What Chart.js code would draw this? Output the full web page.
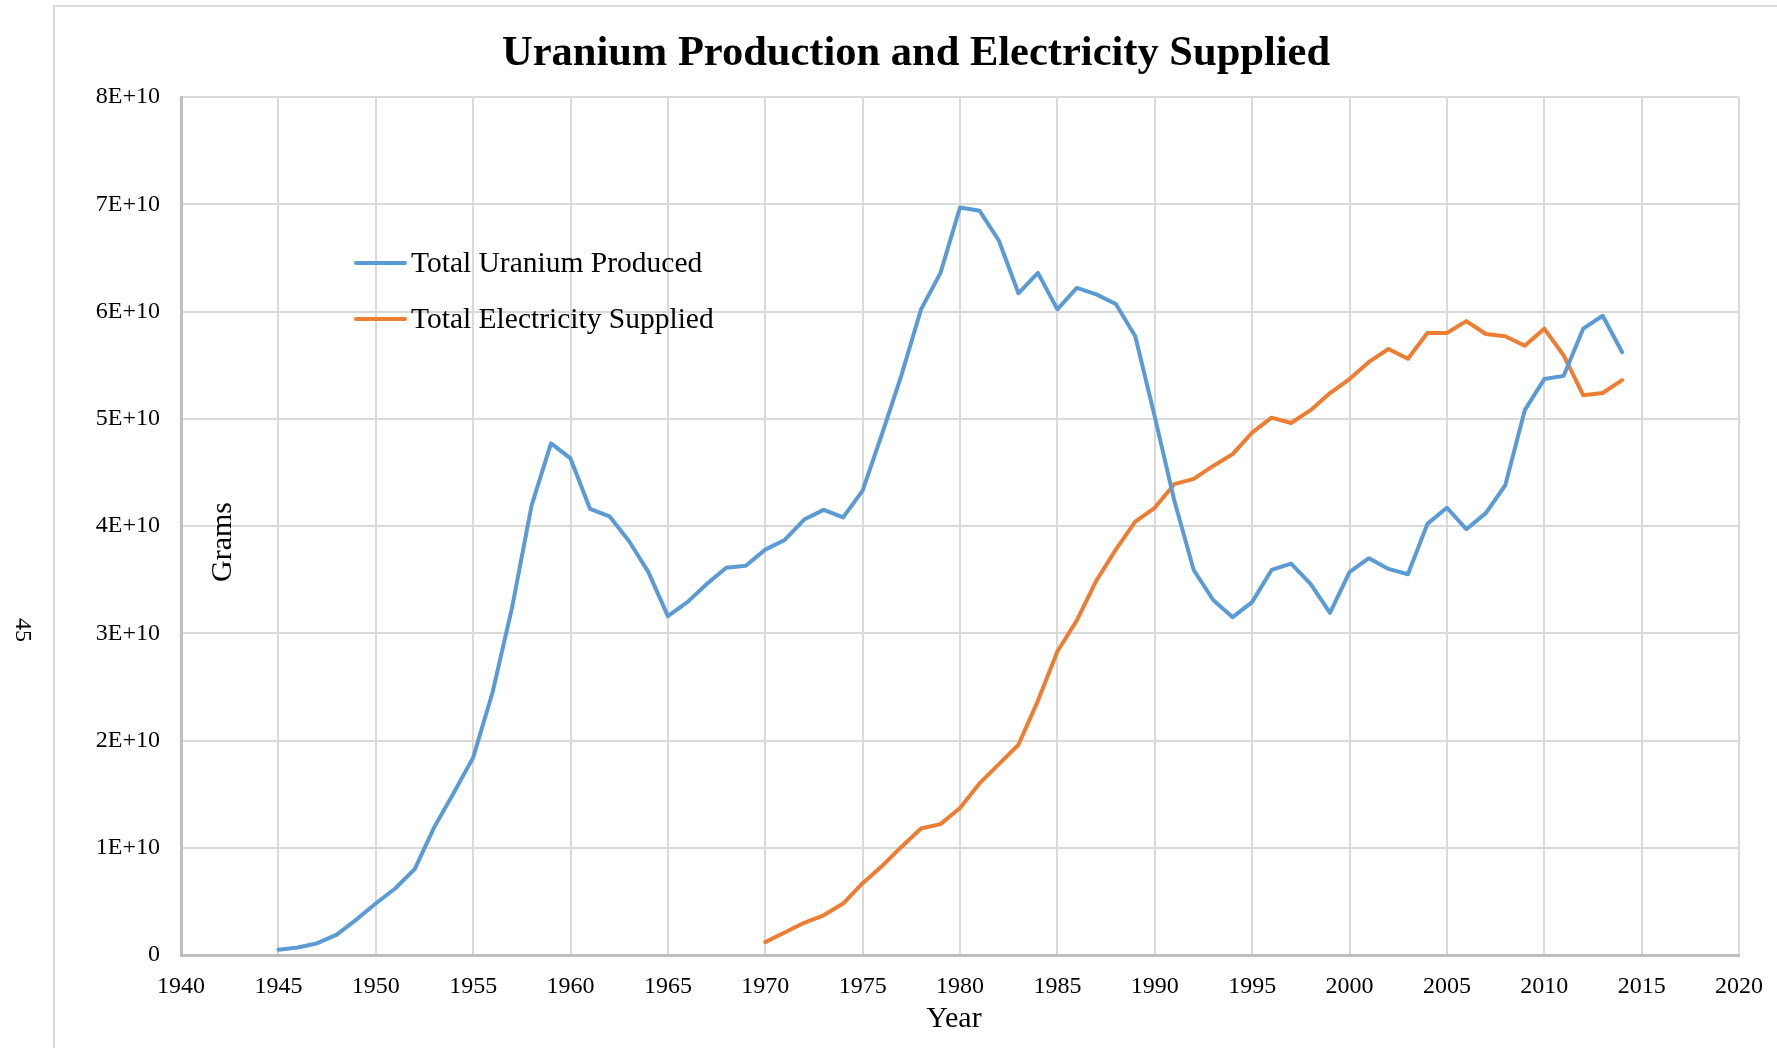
<!DOCTYPE html>
<html lang="en">
<head>
    <meta charset="UTF-8">
    <title>Uranium Production and Electricity Supplied</title>
    <style>
        html, body { margin: 0; padding: 0; background: #fff; }
        #wrap { width: 1777px; height: 1048px; }
    </style>
</head>
<body>
    <div id="wrap"><canvas id="uChart" width="1777" height="1048"></canvas></div>

    <script src="https://cdn.jsdelivr.net/npm/chart.js@4.4.1/dist/chart.umd.min.js"></script>
    <script>
        // data (grams, in units of 1E10)
        const uraniumYears = [1945, 1946, 1947, 1948, 1949, 1950, 1951, 1952, 1953, 1954,
            1955, 1956, 1957, 1958, 1959, 1960, 1961, 1962, 1963, 1964,
            1965, 1966, 1967, 1968, 1969, 1970, 1971, 1972, 1973, 1974,
            1975, 1976, 1977, 1978, 1979, 1980, 1981, 1982, 1983, 1984,
            1985, 1986, 1987, 1988, 1989, 1990, 1991, 1992, 1993, 1994,
            1995, 1996, 1997, 1998, 1999, 2000, 2001, 2002, 2003, 2004,
            2005, 2006, 2007, 2008, 2009, 2010, 2011, 2012, 2013, 2014];
        const uraniumValues = [0.05, 0.07, 0.11, 0.19, 0.33, 0.48, 0.62, 0.80, 1.19, 1.51,
            1.84, 2.45, 3.24, 4.19, 4.77, 4.63, 4.16, 4.09, 3.86, 3.57,
            3.16, 3.29, 3.46, 3.61, 3.63, 3.78, 3.87, 4.06, 4.15, 4.08,
            4.33, 4.86, 5.41, 6.02, 6.36, 6.97, 6.94, 6.66, 6.17, 6.36,
            6.02, 6.22, 6.16, 6.07, 5.77, 5.02, 4.24, 3.59, 3.31, 3.15,
            3.29, 3.59, 3.65, 3.46, 3.19, 3.57, 3.70, 3.60, 3.55, 4.02,
            4.17, 3.97, 4.12, 4.38, 5.08, 5.37, 5.40, 5.84, 5.96, 5.62];

        const electricityYears = [1970, 1971, 1972, 1973, 1974, 1975, 1976, 1977, 1978, 1979,
            1980, 1981, 1982, 1983, 1984, 1985, 1986, 1987, 1988, 1989,
            1990, 1991, 1992, 1993, 1994, 1995, 1996, 1997, 1998, 1999,
            2000, 2001, 2002, 2003, 2004, 2005, 2006, 2007, 2008, 2009,
            2010, 2011, 2012, 2013, 2014];
        const electricityValues = [0.12, 0.21, 0.30, 0.37, 0.48, 0.67, 0.83, 1.01, 1.18, 1.22,
            1.37, 1.60, 1.78, 1.96, 2.37, 2.83, 3.12, 3.49, 3.78, 4.04,
            4.17, 4.39, 4.44, 4.56, 4.67, 4.87, 5.01, 4.96, 5.08, 5.24,
            5.37, 5.53, 5.65, 5.56, 5.80, 5.80, 5.91, 5.79, 5.77, 5.68,
            5.84, 5.59, 5.22, 5.24, 5.36];

        const seriesNames = ['Total Uranium Produced', 'Total Electricity Supplied'];
        const seriesColors = ['#5B9BD5', '#ED7D31'];
        const yTickValues = [0, 1e10, 2e10, 3e10, 4e10, 5e10, 6e10, 7e10, 8e10];

        const SERIF = '"Liberation Serif", "Times New Roman", serif';

        function toPoints(xs, vs) {
            return xs.map((x, i) => ({ x: x, y: vs[i] * 1e10 }));
        }

        // page border, title, axis titles, legend and page number
        const decorations = {
            id: 'decorations',
            beforeDraw(chart) {
                const c = chart.ctx;
                c.save();
                c.fillStyle = '#fff';
                c.fillRect(0, 0, chart.width, chart.height);
                c.strokeStyle = '#d9d9d9';
                c.lineWidth = 2;
                c.beginPath();
                c.moveTo(54, 1048);
                c.lineTo(54, 6);
                c.lineTo(1777, 6);
                c.stroke();
                c.restore();
            },
            afterDraw(chart) {
                const c = chart.ctx;
                c.save();
                c.fillStyle = '#000';
                c.textAlign = 'center';
                c.textBaseline = 'middle';

                c.font = 'bold 42.5px ' + SERIF;
                c.fillText('Uranium Production and Electricity Supplied', 916, 54);

                c.font = '30px ' + SERIF;
                c.fillText('Year', 954, 1019);

                c.save();
                c.translate(223, 542);
                c.rotate(-Math.PI / 2);
                c.fillText('Grams', 0, 0);
                c.restore();

                c.save();
                c.font = '24px ' + SERIF;
                c.translate(22, 630);
                c.rotate(Math.PI / 2);
                c.fillText('45', 0, 0);
                c.restore();

                // legend inside the plot
                c.textAlign = 'left';
                c.font = '29.5px ' + SERIF;
                seriesNames.forEach((name, i) => {
                    const y = 263 + i * 56;
                    c.strokeStyle = seriesColors[i];
                    c.lineWidth = 4;
                    c.lineCap = 'round';
                    c.beginPath();
                    c.moveTo(356, y);
                    c.lineTo(405, y);
                    c.stroke();
                    c.fillText(name, 411, y + 1);
                });
                c.restore();
            }
        };

        new Chart(document.getElementById('uChart'), {
            type: 'line',
            data: {
                datasets: [
                    {
                        label: seriesNames[0],
                        data: toPoints(uraniumYears, uraniumValues),
                        borderColor: seriesColors[0],
                        backgroundColor: seriesColors[0],
                        borderWidth: 4,
                        pointRadius: 0,
                        tension: 0,
                        borderCapStyle: 'round',
                        borderJoinStyle: 'round'
                    },
                    {
                        label: seriesNames[1],
                        data: toPoints(electricityYears, electricityValues),
                        borderColor: seriesColors[1],
                        backgroundColor: seriesColors[1],
                        borderWidth: 4,
                        pointRadius: 0,
                        tension: 0,
                        borderCapStyle: 'round',
                        borderJoinStyle: 'round'
                    }
                ]
            },
            options: {
                responsive: false,
                animation: false,
                events: [],
                layout: { padding: { top: 97, right: 38, bottom: 0, left: 0 } },
                plugins: {
                    legend: { display: false },
                    title: { display: false },
                    tooltip: { enabled: false }
                },
                scales: {
                    x: {
                        type: 'linear',
                        min: 1940,
                        max: 2020,
                        afterFit(scale) {
                            scale.height = 93;
                            scale.paddingLeft = 0;
                            scale.paddingRight = 0;
                        },
                        ticks: {
                            stepSize: 5,
                            padding: 17,
                            color: '#000',
                            maxRotation: 0,
                            autoSkip: false,
                            font: { family: SERIF, size: 24 },
                            callback: v => String(v)
                        },
                        grid: { color: '#d9d9d9', lineWidth: 2, drawTicks: false },
                        border: { color: '#bfbfbf', width: 3 }
                    },
                    y: {
                        type: 'linear',
                        min: 0,
                        max: 8e10,
                        afterFit(scale) { scale.width = 181; },
                        afterBuildTicks(scale) {
                            scale.ticks = yTickValues.map(v => ({ value: v }));
                        },
                        ticks: {
                            padding: 21,
                            color: '#000',
                            font: { family: SERIF, size: 24 },
                            callback: v => v === 0 ? '0' : (v / 1e10) + 'E+10'
                        },
                        grid: { color: '#d9d9d9', lineWidth: 2, drawTicks: false },
                        border: { color: '#bfbfbf', width: 3 }
                    }
                }
            },
            plugins: [decorations]
        });
    </script>
</body>
</html>
